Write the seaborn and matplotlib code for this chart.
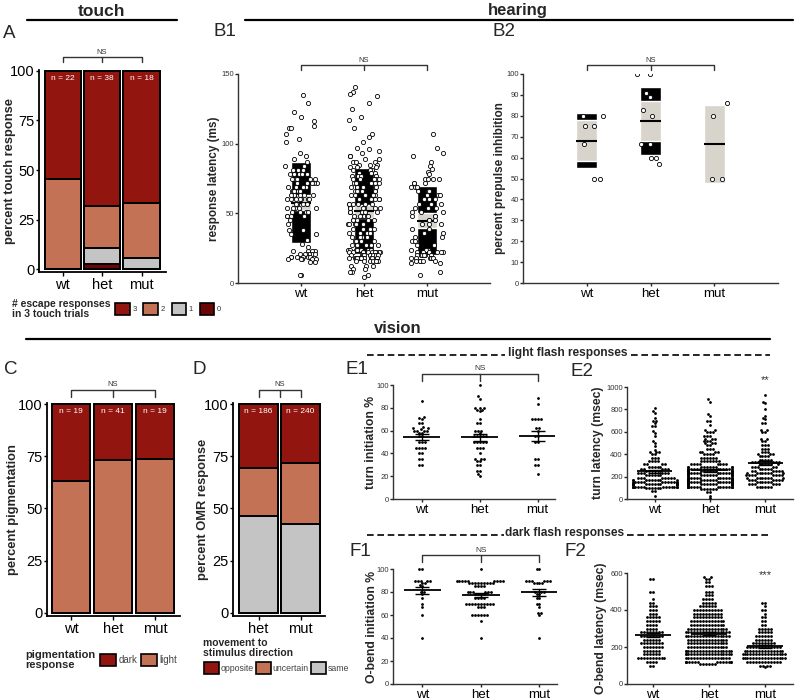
import numpy as np
import pandas as pd
import matplotlib
matplotlib.use('Agg')
import matplotlib.pyplot as plt
import matplotlib.transforms as transforms
from matplotlib.patches import Patch
from matplotlib.lines import Line2D
import seaborn as sns
import warnings
warnings.filterwarnings('ignore')

sns.set_theme(style='ticks')
plt.rcParams['font.family'] = ['Liberation Sans', 'DejaVu Sans']

genos = ['wt', 'het', 'mut']

# ---- A: touch (percent of larvae, bottom -> top: 0, 1, 2, 3 escapes)
touch_n = [22, 38, 18]
touch_0 = [0, 2.6, 0]
touch_1 = [0, 7.9, 5.6]
touch_2 = [45.5, 21.1, 27.7]
touch_3 = [54.5, 68.4, 66.7]
touch_colors = ['#6B0606', '#C4C4C4', '#C47256', '#93150F']

# ---- C: pigmentation
pig_n = [19, 41, 19]
pig_light = [63.2, 73.2, 73.7]
pig_dark = [36.8, 26.8, 26.3]

# ---- D: OMR
omr_genos = ['het', 'mut']
omr_n = [186, 240]
omr_same = [46.2, 42.5]
omr_uncertain = [23.1, 29.2]
omr_opposite = [30.7, 28.3]

# ---- B1: response latency (ms), value / count
b1_wt_vals = [135, 129, 123, 119, 116, 113, 111, 107, 103, 101, 93, 91, 89, 87, 84, 81, 78, 75, 72, 69,
              66, 63, 60, 57, 54, 51, 48, 45, 42, 38, 35, 31, 28, 26, 23, 21, 19, 17, 15, 6]
b1_wt_cnts = [1, 1, 1, 1, 1, 1, 2, 1, 1, 1, 1, 1, 1, 1, 2, 3, 5, 5, 5, 4,
              6, 6, 7, 6, 5, 5, 4, 1, 1, 2, 2, 1, 1, 1, 4, 6, 6, 5, 2, 2]
b1_het_vals = [141, 137, 136, 134, 129, 125, 119, 117, 111, 107, 105, 101, 97, 96, 95, 93,
               91, 89, 87, 85, 83, 81, 79, 77, 75, 72, 69, 66, 63, 60, 57, 54, 51, 48, 45, 42,
               39, 36, 33, 30, 27, 24, 22, 20, 18, 16, 12, 10, 8, 6, 4]
b1_het_cnts = [1, 1, 1, 1, 1, 1, 1, 1, 1, 1, 1, 1, 1, 1, 1, 1,
               3, 2, 3, 3, 3, 3, 4, 4, 5, 5, 5, 6, 6, 6, 6, 6, 6, 6, 5, 5,
               4, 4, 4, 4, 5, 8, 10, 10, 12, 8, 3, 2, 2, 1, 1]
b1_mut_vals = [107, 97, 93, 91, 87, 84, 82, 80, 78, 75, 72, 69, 66, 63, 60, 57, 54, 51, 48, 45, 42,
               39, 36, 33, 30, 27, 24, 22, 20, 18, 16, 14, 8, 6]
b1_mut_cnts = [1, 1, 1, 1, 1, 1, 1, 1, 1, 4, 3, 3, 3, 3, 3, 3, 3, 3, 3, 3, 3,
               2, 2, 2, 2, 2, 4, 6, 6, 6, 5, 2, 1, 1]

# ---- B2: prepulse inhibition (%)
b2_wt = [80, 80, 75, 75, 66.7, 50, 50]
b2_het = [100, 100, 91, 89, 83, 80, 66.7, 66.7, 60, 60, 57]
b2_mut = [50, 50, 80, 86]

# ---- E1: turn initiation (%)
e1_wt = [86, 72, 71, 70, 67, 67, 63, 62, 62, 61, 60, 60, 60, 60, 58, 58, 55, 55, 50, 50, 50,
         45, 45, 45, 45, 40, 40, 35, 35, 30, 30]
e1_het = [100, 90, 88, 80, 80, 80, 78, 78, 77, 70, 67, 67, 60, 60, 60, 58, 55, 55, 55, 55, 55,
          50, 50, 50, 50, 50, 45, 45, 45, 40, 35, 35, 35, 33, 33, 30, 30, 25, 25, 22, 20]
e1_mut = [89, 83, 70, 70, 70, 70, 62, 62, 60, 55, 55, 50, 50, 35, 35, 30, 30, 22]

# ---- E2: turn latency (msec)
e2_wt_vals = [810, 790, 770, 720, 700, 680, 650, 610, 590, 560, 520, 500, 470, 440, 420, 400, 370, 340,
              310, 290, 270, 250, 230, 210, 190, 170, 150, 130, 110, 95, 70, 30]
e2_wt_cnts = [1, 1, 1, 1, 2, 1, 2, 1, 1, 1, 1, 1, 1, 1, 3, 2, 3, 4,
              4, 5, 5, 6, 6, 6, 8, 9, 12, 18, 16, 6, 2, 1]
e2_het_vals = [890, 870, 760, 740, 700, 660, 620, 600, 560, 540, 520, 500, 480, 450, 420, 400, 370,
               340, 310, 290, 270, 250, 230, 210, 190, 170, 150, 130, 110, 90, 60, 30, 5]
e2_het_cnts = [1, 1, 1, 1, 2, 1, 2, 3, 3, 3, 3, 3, 2, 3, 4, 4, 6,
               7, 8, 10, 12, 15, 15, 16, 18, 18, 20, 22, 18, 6, 2, 1, 1]
e2_mut_vals = [930, 870, 860, 800, 740, 720, 710, 680, 620, 600, 540, 520, 480, 450, 420, 400, 380,
               350, 330, 310, 290, 270, 250, 230, 210, 190, 170, 150, 130, 110]
e2_mut_cnts = [1, 1, 1, 1, 1, 1, 1, 2, 2, 2, 2, 2, 3, 3, 3, 3, 4,
               5, 6, 6, 5, 5, 6, 8, 8, 8, 7, 6, 6, 6]

# ---- F1: O-bend initiation (%)
f1_wt = [100, 100, 90, 90, 90, 90, 90, 88, 88, 86, 85, 80, 80, 78, 75, 70, 67, 60, 40]
f1_het_vals = [100, 90, 88, 85, 80, 78, 75, 70, 67, 60, 55, 40]
f1_het_cnts = [1, 9, 9, 4, 6, 4, 4, 10, 3, 6, 1, 1]
f1_mut_vals = [100, 90, 88, 80, 78, 75, 70, 67, 62, 60, 40]
f1_mut_cnts = [2, 6, 4, 3, 2, 2, 2, 1, 2, 1, 1]

# ---- F2: O-bend latency (msec)
f2_wt_vals = [570, 500, 460, 440, 420, 400, 380, 360, 340, 320, 300, 280, 260, 240, 220, 200, 180,
              160, 140, 120, 100]
f2_wt_cnts = [2, 2, 1, 2, 3, 3, 3, 5, 5, 4, 4, 8, 8, 6, 8, 7, 6, 6, 10, 4, 2]
f2_het_vals = [580, 570, 550, 530, 500, 480, 460, 440, 420, 400, 380, 360, 340, 320, 300, 280, 260,
               240, 220, 200, 180, 160, 140, 120, 110]
f2_het_cnts = [2, 2, 2, 3, 3, 3, 4, 5, 6, 10, 10, 10, 12, 12, 14, 16, 16,
               14, 14, 14, 18, 18, 16, 14, 6]
f2_mut_vals = [440, 420, 400, 380, 360, 340, 320, 300, 280, 260, 240, 220, 200, 180, 160, 140, 120, 100, 90]
f2_mut_cnts = [2, 1, 2, 1, 2, 2, 2, 5, 5, 6, 6, 8, 12, 14, 16, 16, 12, 4, 1]


def long_df(groups):
    return pd.concat([pd.DataFrame({'geno': g, 'val': np.asarray(v, dtype=float)})
                      for g, v in groups.items()], ignore_index=True)


W, H = 800, 700
fig = plt.figure(figsize=(8, 7), dpi=100)


def px_axes(x0, y0, x1, y1):
    return fig.add_axes([x0 / W, 1 - y1 / H, (x1 - x0) / W, (y1 - y0) / H])


def ftext(x, y, s, **kw):
    fig.text(x / W, 1 - y / H, s, **kw)


def fline(x0, x1, y, **kw):
    fig.add_artist(Line2D([x0 / W, x1 / W], [1 - y / H, 1 - y / H], **kw))


def place_ylabel(ax, xpx):
    # xpx = right edge of the rotated label, in pixels
    pos = ax.get_position()
    ax.yaxis.set_label_coords((xpx / W - pos.x0) / pos.width, 0.5)


def bracket(ax, x0, x1, ypx, text, drop=5, fs=6):
    tr = transforms.blended_transform_factory(ax.transData, fig.transFigure)
    y, y2 = 1 - ypx / H, 1 - (ypx + drop) / H
    xm = (x0 + x1) / 2
    kw = dict(transform=tr, color='#333333', lw=1, clip_on=False)
    ax.plot([x0, x0, x1, x1], [y2, y, y, y2], **kw)
    ax.plot([xm, xm], [y, y2], **kw)
    ax.text(xm, y + 1.5 / H, text, transform=tr, ha='center', va='bottom', fontsize=fs, color='#333333')


def stacked(ax, cats, layers, colors, ns, xlim, ylabel, ylab_x):
    tops = np.cumsum(np.array(layers), axis=0)
    for k in range(len(layers) - 1, -1, -1):
        sns.barplot(x=cats, y=tops[k], color=colors[k], saturation=1, width=0.92,
                    edgecolor='black', linewidth=1.4, ax=ax)
    for i, n in enumerate(ns):
        ax.text(i, 98, f'n = {n}', color='white', ha='center', va='top', fontsize=6)
    ax.set_xlim(*xlim)
    ax.set_ylim(-1.5, 100.5)
    ax.set_yticks([0, 25, 50, 75, 100])
    ax.set_ylabel(ylabel, fontsize=9.3, fontweight='bold')
    place_ylabel(ax, ylab_x)
    ax.set_xlabel('')
    ax.tick_params(axis='y', labelsize=10.5, length=2.5, width=1, color='black', labelcolor='black', pad=0.5)
    ax.tick_params(axis='x', labelsize=10.5, length=3, width=1, color='black', labelcolor='black', pad=1.5)
    sns.despine(ax=ax)
    for s in ['left', 'bottom']:
        ax.spines[s].set_linewidth(1.3)
        ax.spines[s].set_color('black')


def pirate(ax, df, box_w=0.33, size=3.0):
    st = df.groupby('geno', sort=False)['val'].agg(['mean', 'std', 'count']).reindex(genos)
    ci = 1.96 * st['std'] / np.sqrt(st['count'])
    x = np.arange(len(genos))
    ax.bar(x, 2 * st['std'], bottom=st['mean'] - st['std'], width=box_w, color='black', zorder=1)
    ax.bar(x, 2 * ci, bottom=st['mean'] - ci, width=box_w, color='#D8D3CB', zorder=2)
    ax.hlines(st['mean'], x - box_w / 2, x + box_w / 2, color='black', lw=1.5, zorder=3)
    sns.stripplot(data=df, x='geno', y='val', order=genos, jitter=0.26, size=size, color='white',
                  edgecolor='black', linewidth=0.6, ax=ax, zorder=4)


def dots(ax, df):
    sns.swarmplot(data=df, x='geno', y='val', order=genos, size=2.0, color='black', ax=ax)
    for c in ax.collections:
        c.set_clip_on(False)
    st = df.groupby('geno', sort=False)['val'].agg(['mean', 'sem']).reindex(genos)
    x = np.arange(len(genos))
    ax.hlines(st['mean'], x - 0.32, x + 0.32, color='black', lw=1.3, zorder=5)
    ax.errorbar(x, st['mean'], yerr=st['sem'], fmt='none', ecolor='black', elinewidth=1,
                capsize=5, capthick=1, zorder=5)


def small_style(ax, ylabel, ylim, yticks, xlim, ylab_x, ylab_fs=8.5, ytick_fs=5.5, xtick_fs=9.5):
    ax.set_xlim(*xlim)
    ax.set_ylim(*ylim)
    ax.set_yticks(yticks)
    ax.set_xlabel('')
    ax.set_ylabel(ylabel, fontsize=ylab_fs, fontweight='bold')
    place_ylabel(ax, ylab_x)
    ax.tick_params(axis='y', labelsize=ytick_fs, labelcolor='#333333', length=2.5, width=1, pad=0.5)
    ax.tick_params(axis='x', labelsize=xtick_fs, labelcolor='black', length=2.5, width=1, pad=0.8)
    sns.despine(ax=ax)
    for s in ['left', 'bottom']:
        ax.spines[s].set_linewidth(1)
        ax.spines[s].set_color('#333333')


# ---------------- A
axA = px_axes(39, 70, 166, 272)
stacked(axA, genos, [touch_0, touch_1, touch_2, touch_3], touch_colors, touch_n,
        (-0.6, 2.62), 'percent touch response', 16)
bracket(axA, 0, 2, 57, 'NS', drop=5, fs=5.5)

# ---------------- C
axC = px_axes(47, 403, 180, 616)
stacked(axC, genos, [pig_light, pig_dark], ['#C47256', '#93150F'], pig_n,
        (-0.58, 2.6), 'percent pigmentation', 19)
bracket(axC, 0, 2, 390, 'NS', drop=7, fs=5.5)

# ---------------- D
axD = px_axes(233, 403, 325, 616)
stacked(axD, omr_genos, [omr_same, omr_uncertain, omr_opposite], ['#C4C4C4', '#C47256', '#93150F'],
        omr_n, (-0.61, 1.58), 'percent OMR response', 209)
bracket(axD, 0, 1, 390, 'NS', drop=7, fs=5.5)

# ---------------- B1
b1 = long_df({'wt': np.repeat(b1_wt_vals, b1_wt_cnts),
              'het': np.repeat(b1_het_vals, b1_het_cnts),
              'mut': np.repeat(b1_mut_vals, b1_mut_cnts)})
axB1 = px_axes(238, 74, 490, 283)
np.random.seed(3)
pirate(axB1, b1)
small_style(axB1, 'response latency (ms)', (0, 150), [0, 50, 100, 150], (-1, 3), 220)
bracket(axB1, 0, 2, 65, 'NS', drop=5, fs=5.5)

# ---------------- B2
b2 = long_df({'wt': b2_wt, 'het': b2_het, 'mut': b2_mut})
axB2 = px_axes(523, 74, 778, 283)
pirate(axB2, b2, size=3.0)
small_style(axB2, 'percent prepulse inhibition', (0, 100), np.arange(0, 101, 10), (-1, 3), 506)
bracket(axB2, 0, 2, 65, 'NS', drop=5, fs=5.5)

# ---------------- E1
e1 = long_df({'wt': e1_wt, 'het': e1_het, 'mut': e1_mut})
axE1 = px_axes(393, 385, 555, 499)
dots(axE1, e1)
small_style(axE1, 'turn initiation %', (0, 100), [0, 20, 40, 60, 80, 100], (-0.5, 2.3), 377, ylab_fs=8.8)
bracket(axE1, 0, 2, 374, 'NS', drop=7, fs=6)

# ---------------- E2
e2 = long_df({'wt': np.repeat(e2_wt_vals, e2_wt_cnts),
              'het': np.repeat(e2_het_vals, e2_het_cnts),
              'mut': np.repeat(e2_mut_vals, e2_mut_cnts)})
axE2 = px_axes(627, 387, 793, 499)
dots(axE2, e2)
small_style(axE2, 'turn latency (msec)', (0, 1000), [0, 200, 400, 600, 800, 1000], (-0.5, 2.5), 604,
            ylab_fs=8.8)
axE2.text(2, 1020, '**', ha='center', va='bottom', fontsize=8, color='#333333', clip_on=False)

# ---------------- F1
f1 = long_df({'wt': f1_wt, 'het': np.repeat(f1_het_vals, f1_het_cnts),
              'mut': np.repeat(f1_mut_vals, f1_mut_cnts)})
axF1 = px_axes(393, 569, 557, 684)
dots(axF1, f1)
small_style(axF1, 'O-bend initiation %', (0, 100), [0, 20, 40, 60, 80, 100], (-0.5, 2.3), 378, ylab_fs=8.8)
bracket(axF1, 0, 2, 555, 'NS', drop=7, fs=6)

# ---------------- F2
f2 = long_df({'wt': np.repeat(f2_wt_vals, f2_wt_cnts),
              'het': np.repeat(f2_het_vals, f2_het_cnts),
              'mut': np.repeat(f2_mut_vals, f2_mut_cnts)})
axF2 = px_axes(627, 573, 793, 684)
dots(axF2, f2)
small_style(axF2, 'O-bend latency (msec)', (0, 600), [0, 200, 400, 600], (-0.46, 2.5), 607, ylab_fs=8.8)
axF2.text(2, 560, '***', ha='center', va='bottom', fontsize=8, color='#333333')

# ---------------- section headers
ftext(102, 11, 'touch', ha='center', va='center', fontsize=12.5, fontweight='bold')
fline(27, 177, 20, color='black', lw=1.6)
ftext(518, 11, 'hearing', ha='center', va='center', fontsize=12, fontweight='bold')
fline(245, 793, 20, color='black', lw=1.6)
ftext(398, 328, 'vision', ha='center', va='center', fontsize=12, fontweight='bold')
fline(26, 770, 339, color='black', lw=1.6)
dash = (0, (4, 2.2))
ftext(568, 353, 'light flash responses', ha='center', va='center', fontsize=8.6, fontweight='bold')
fline(367, 505, 355, color='black', lw=1.2, linestyle=dash)
fline(631, 770, 355, color='black', lw=1.2, linestyle=dash)
ftext(565, 533, 'dark flash responses', ha='center', va='center', fontsize=8.6, fontweight='bold')
fline(367, 504, 535, color='black', lw=1.2, linestyle=dash)
fline(627, 768, 535, color='black', lw=1.2, linestyle=dash)

# panel letters
for lab, x, y in [('A', 9, 33), ('B1', 225, 32), ('B2', 504, 32), ('C', 11, 369), ('D', 199, 369),
                  ('E1', 357, 370), ('E2', 582, 371), ('F1', 360, 552), ('F2', 575, 552)]:
    ftext(x, y, lab, ha='center', va='center', fontsize=13.5)

# ---------------- legends
ftext(12, 309, '# escape responses\nin 3 touch trials', ha='left', va='center', fontsize=7.5,
      fontweight='bold', linespacing=1.0)
fig.legend(handles=[Patch(facecolor=c, edgecolor='black', lw=1.2) for c in touch_colors[::-1]],
           labels=['3', '2', '1', '0'], ncol=4, loc='center left', bbox_to_anchor=(115 / W, 1 - 309 / H),
           frameon=False, handlelength=1.9, handleheight=2.0, handletextpad=0.35, columnspacing=0.9,
           fontsize=5.5, labelcolor='#333333', borderpad=0, borderaxespad=0)

ftext(25, 660, 'pigmentation\nresponse', ha='left', va='center', fontsize=8, fontweight='bold',
      linespacing=1.0)
fig.legend(handles=[Patch(facecolor=c, edgecolor='black', lw=1.2) for c in ['#93150F', '#C47256']],
           labels=['dark', 'light'], ncol=2, loc='center left', bbox_to_anchor=(100 / W, 1 - 660 / H),
           frameon=False, handlelength=1.6, handleheight=1.6, handletextpad=0.3, columnspacing=0.4,
           fontsize=7, labelcolor='#444444', borderpad=0, borderaxespad=0)

ftext(203, 648, 'movement to\nstimulus direction', ha='left', va='center', fontsize=7.5,
      fontweight='bold', linespacing=1.0)
fig.legend(handles=[Patch(facecolor=c, edgecolor='black', lw=1.2) for c in ['#93150F', '#C47256', '#C4C4C4']],
           labels=['opposite', 'uncertain', 'same'], ncol=3, loc='center left',
           bbox_to_anchor=(204 / W, 1 - 668 / H), frameon=False, handlelength=1.7, handleheight=1.7,
           handletextpad=0.2, columnspacing=0.25, fontsize=6.3, labelcolor='#444444',
           borderpad=0, borderaxespad=0)

fig.savefig('out.png', dpi=100, facecolor='white')
